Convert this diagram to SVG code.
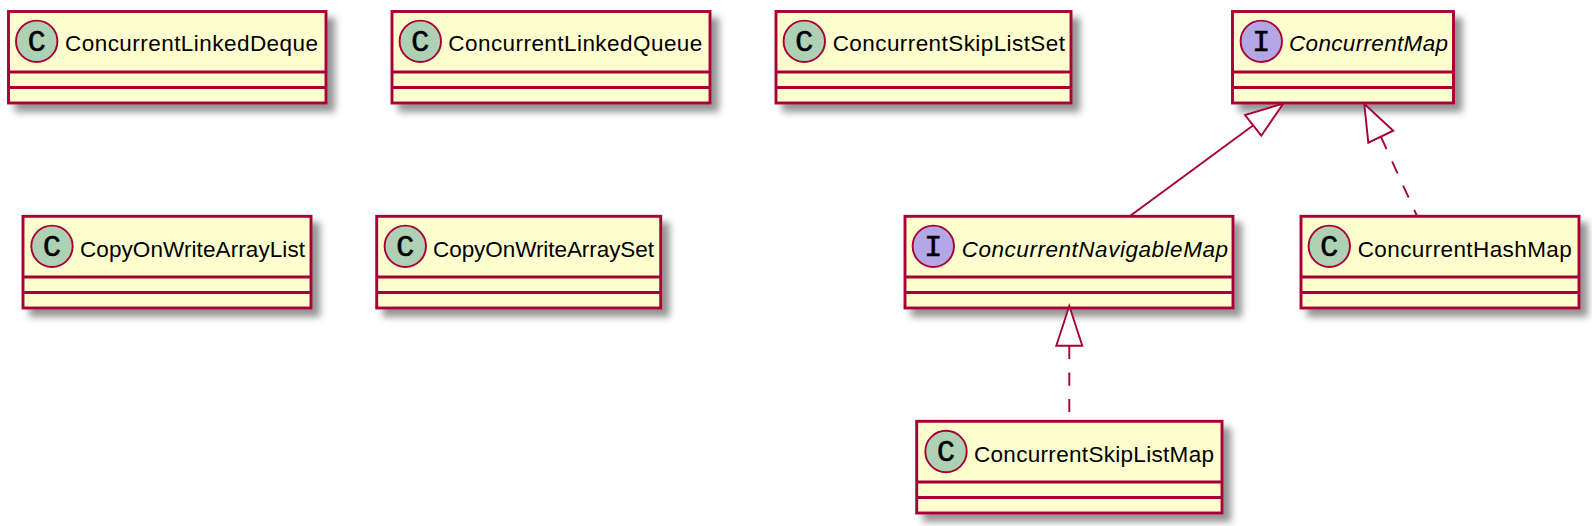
<svg xmlns="http://www.w3.org/2000/svg" width="1592" height="526" viewBox="0 0 1592 526">
<style>
.box{fill:#FEFECE;stroke:#A80036;stroke-width:2.9;filter:url(#sh)}
.div{stroke:#A80036;stroke-width:2.9;fill:none}
.c{fill:#ADD1B2;stroke:#A80036;stroke-width:1.9}
.i{fill:#B4A7E5;stroke:#A80036;stroke-width:1.9}
.sp{font-family:"Liberation Mono",monospace;font-size:30px;fill:#000;stroke:#000;stroke-width:.6;text-anchor:middle}
.t{font-family:"Liberation Sans",Arial,sans-serif;font-size:22.5px;fill:#000}
.it{font-style:italic}
.ln{stroke:#A80036;stroke-width:1.9;fill:none}
.dash{stroke-dasharray:13.3 13.4}
.tri{fill:#fff;stroke:#A80036;stroke-width:1.9}
</style>
<defs>
<filter id="sh" x="-5%" y="-10%" width="115%" height="130%">
<feDropShadow dx="7.5" dy="7.5" stdDeviation="3.6" flood-color="#000" flood-opacity="0.42"/>
</filter>
</defs>
<g id="ConcurrentLinkedDeque">
<rect class="box" x="8.5" y="11.5" width="317.5" height="91.5"/>
<path class="div" d="M8.5 72H326M8.5 87.5H326"/>
<circle class="c" cx="36.7" cy="41.3" r="20.7"/>
<text class="sp" x="36.7" y="50.5">C</text>
<text class="t" x="65" y="51" textLength="253">ConcurrentLinkedDeque</text>
</g>
<g id="ConcurrentLinkedQueue">
<rect class="box" x="392" y="11.5" width="318" height="91.5"/>
<path class="div" d="M392 72H710M392 87.5H710"/>
<circle class="c" cx="420.3" cy="41.3" r="20.7"/>
<text class="sp" x="420.3" y="50.5">C</text>
<text class="t" x="448.3" y="51" textLength="254">ConcurrentLinkedQueue</text>
</g>
<g id="ConcurrentSkipListSet">
<rect class="box" x="776" y="11.5" width="295" height="91.5"/>
<path class="div" d="M776 72H1071M776 87.5H1071"/>
<circle class="c" cx="804.3" cy="41.3" r="20.7"/>
<text class="sp" x="804.3" y="50.5">C</text>
<text class="t" x="832.7" y="51" textLength="232.3">ConcurrentSkipListSet</text>
</g>
<g id="ConcurrentMap">
<rect class="box" x="1232.5" y="11.5" width="221" height="91.5"/>
<path class="div" d="M1232.5 72H1453.5M1232.5 87.5H1453.5"/>
<circle class="i" cx="1261.3" cy="41.3" r="20.7"/>
<text class="sp" x="1261.3" y="50.5">I</text>
<text class="t it" x="1289" y="51" textLength="159">ConcurrentMap</text>
</g>
<g id="CopyOnWriteArrayList">
<rect class="box" x="23" y="216.3" width="288" height="91.7"/>
<path class="div" d="M23 277H311M23 292.5H311"/>
<circle class="c" cx="52" cy="246.3" r="20.7"/>
<text class="sp" x="52" y="255.5">C</text>
<text class="t" x="80" y="256.5" textLength="225">CopyOnWriteArrayList</text>
</g>
<g id="CopyOnWriteArraySet">
<rect class="box" x="376.7" y="216.3" width="284" height="91.7"/>
<path class="div" d="M376.7 277H660.7M376.7 292.5H660.7"/>
<circle class="c" cx="405.3" cy="246.3" r="20.7"/>
<text class="sp" x="405.3" y="255.5">C</text>
<text class="t" x="433" y="256.5" textLength="221">CopyOnWriteArraySet</text>
</g>
<g id="ConcurrentNavigableMap">
<rect class="box" x="905" y="216.3" width="328" height="91.7"/>
<path class="div" d="M905 277H1233M905 292.5H1233"/>
<circle class="i" cx="933.3" cy="246.3" r="20.7"/>
<text class="sp" x="933.3" y="255.5">I</text>
<text class="t it" x="961.7" y="256.5" textLength="266.3">ConcurrentNavigableMap</text>
</g>
<g id="ConcurrentHashMap">
<rect class="box" x="1301" y="216.3" width="278" height="91.7"/>
<path class="div" d="M1301 277H1579M1301 292.5H1579"/>
<circle class="c" cx="1329.3" cy="246.3" r="20.7"/>
<text class="sp" x="1329.3" y="255.5">C</text>
<text class="t" x="1357.7" y="256.5" textLength="214">ConcurrentHashMap</text>
</g>
<g id="ConcurrentSkipListMap">
<rect class="box" x="916.7" y="421.3" width="305.3" height="91.7"/>
<path class="div" d="M916.7 482H1222M916.7 497.5H1222"/>
<circle class="c" cx="946" cy="451.5" r="20.7"/>
<text class="sp" x="946" y="460.7">C</text>
<text class="t" x="974" y="461.5" textLength="240">ConcurrentSkipListMap</text>
</g>
<g id="connectors">
<path class="ln" d="M1253 125.5L1130 216"/>
<path class="tri" d="M1283.3 103.5L1245 115L1261.3 135.7Z"/>
<path class="ln dash" d="M1381 137L1417 216"/>
<path class="tri" d="M1364.3 104L1393.3 130.7L1368.3 142.7Z"/>
<path class="ln dash" d="M1069.3 345.7V412"/>
<path class="tri" d="M1069.3 306L1056.3 345.7H1082.3Z"/>
</g>
</svg>
